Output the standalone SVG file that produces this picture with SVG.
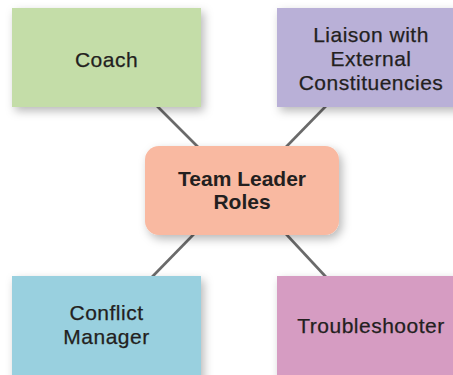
<svg xmlns="http://www.w3.org/2000/svg" width="453" height="375" viewBox="0 0 453 375">
<defs>
<filter id="sh" x="-20%" y="-20%" width="150%" height="160%">
<feDropShadow dx="3" dy="4" stdDeviation="5" flood-color="#000" flood-opacity="0.28"/>
</filter>
</defs>
<style>
.lbl{font-family:"Liberation Sans",Arial,sans-serif;font-size:21px;fill:#231f20;stroke:#231f20;stroke-width:0.25px;text-anchor:middle;letter-spacing:0.5px}
.ctr{font-family:"Liberation Sans",Arial,sans-serif;font-size:21px;font-weight:bold;fill:#231f20;text-anchor:middle}
.conn{stroke:#6a6a6a;stroke-width:2.6;fill:none}
</style>
<rect width="453" height="375" fill="#ffffff"/>
<g id="connectors">
<line class="conn" x1="157" y1="106" x2="198" y2="147"/>
<line class="conn" x1="326" y1="106" x2="286" y2="147"/>
<line class="conn" x1="194" y1="234" x2="152" y2="277"/>
<line class="conn" x1="286" y1="234" x2="326" y2="277"/>
</g>
<g id="coach">
<rect x="12" y="8" width="189" height="99" fill="#c4dda8" filter="url(#sh)"/>
<text class="lbl" x="106.5" y="66.5">Coach</text>
</g>
<g id="liaison">
<rect x="277" y="8" width="190" height="99" fill="#b9b0d7" filter="url(#sh)"/>
<text class="lbl" x="371" y="42">Liaison with</text>
<text class="lbl" x="371" y="66">External</text>
<text class="lbl" x="371" y="90">Constituencies</text>
</g>
<g id="team-leader">
<rect x="145" y="146" width="194" height="89" rx="14" ry="14" fill="#f9b9a1" filter="url(#sh)"/>
<text class="ctr" x="242" y="186">Team Leader</text>
<text class="ctr" x="242" y="209">Roles</text>
</g>
<g id="conflict">
<rect x="12" y="276" width="189" height="110" fill="#99d0df" filter="url(#sh)"/>
<text class="lbl" x="106.5" y="320">Conflict</text>
<text class="lbl" x="106.5" y="344">Manager</text>
</g>
<g id="troubleshooter">
<rect x="277" y="276" width="190" height="110" fill="#d69cc2" filter="url(#sh)"/>
<text class="lbl" x="371" y="333">Troubleshooter</text>
</g>
</svg>
